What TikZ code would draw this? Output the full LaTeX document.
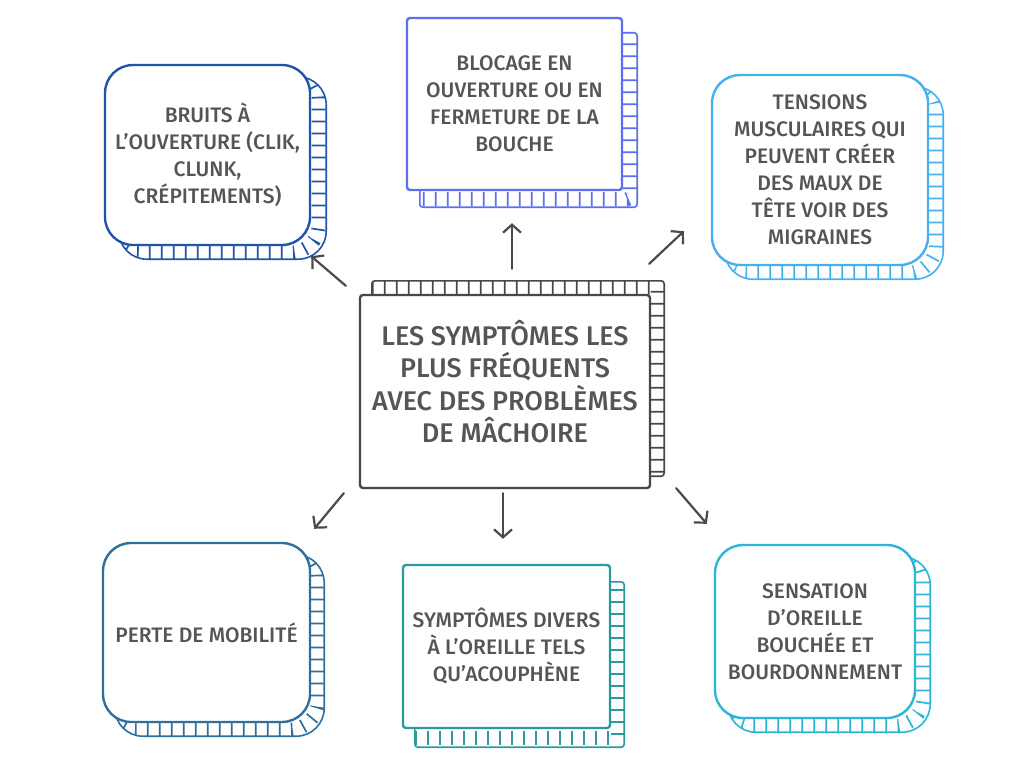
\documentclass[tikz,border=0pt]{standalone}
\usepackage{fontspec}
\setmainfont{Fira Sans}[BoldFont={Fira Sans Medium}]
\usetikzlibrary{arrows.meta,backgrounds}
\definecolor{txtgray}{HTML}{555555}
\definecolor{arrgray}{HTML}{4A4A4A}
\definecolor{bruitsblue}{HTML}{1F55A8}
\definecolor{blocageblue}{HTML}{5A6EF2}
\definecolor{tensionsblue}{HTML}{45B0F0}
\definecolor{centregray}{HTML}{474747}
\definecolor{perteblue}{HTML}{2E6F9E}
\definecolor{diversteal}{HTML}{2B9A9C}
\definecolor{sensationcyan}{HTML}{2BB6D9}
% hatched side band behind a box: node, colour, dx, dy
\newcommand\extrude[4]{%
  \begin{scope}
    \clip ([shift={(#3,#4)}]#1.north west) rectangle ([shift={(#3,#4)}]#1.south east);
    \draw[#2, line width=14pt, dash pattern=on 1.7pt off 10.3pt] ([shift={(#3/2,#4/2)}]#1.north west) rectangle ([shift={(#3/2,#4/2)}]#1.south east);
  \end{scope}
  \draw[#2, line width=1.6pt] ([shift={(#3,#4)}]#1.north west) rectangle ([shift={(#3,#4)}]#1.south east);
}
\begin{document}
\begin{tikzpicture}[x=1pt, y=-1pt,
  symptom/.style={draw=#1, fill=white, line width=2.4pt, rounded corners=28pt, text=txtgray, align=center, font=\fontsize{21}{27}\selectfont\bfseries, inner sep=2pt},
  symptom/.default=black,
  flat/.style={rounded corners=3pt},
  arr/.style={draw=arrgray, line width=2.2pt, line cap=round, -{Straight Barb[length=8pt,width=18pt]}}]
\useasboundingbox (0,0) rectangle (1024,768);

\node[symptom=centregray, flat, minimum width=290pt, minimum height=193pt, font=\fontsize{27}{32.5}\selectfont\bfseries] (centre) at (505,391.5) {LES SYMPTÔMES LES\\PLUS FRÉQUENTS\\AVEC DES PROBLÈMES\\DE MÂCHOIRE\\[-12pt]\mbox{}};

\node[symptom=bruitsblue, minimum width=205pt, minimum height=180pt] (bruits) at (207.5,155) {BRUITS À\\L’OUVERTURE (CLIK,\\CLUNK,\\CRÉPITEMENTS)};
\node[symptom=blocageblue, flat, minimum width=215pt, minimum height=172pt] (blocage) at (514.5,104) {BLOCAGE EN\\OUVERTURE OU EN\\FERMETURE DE LA\\BOUCHE};
\node[symptom=tensionsblue, minimum width=216pt, minimum height=190pt] (tensions) at (820,170) {TENSIONS\\MUSCULAIRES QUI\\PEUVENT CRÉER\\DES MAUX DE\\TÊTE VOIR DES\\MIGRAINES};
\node[symptom=perteblue, minimum width=207pt, minimum height=179pt] (perte) at (206.5,632.5) {PERTE DE MOBILITÉ};
\node[symptom=diversteal, flat, minimum width=207pt, minimum height=163pt] (divers) at (506.5,646.5) {SYMPTÔMES DIVERS\\À L’OREILLE TELS\\QU’ACOUPHÈNE};
\node[symptom=sensationcyan, minimum width=200pt, minimum height=173pt] (sensation) at (815,631.5) {SENSATION\\D’OREILLE\\BOUCHÉE ET\\BOURDONNEMENT};

\begin{scope}[on background layer]
\fill[white] (0,0) rectangle (1024,768);
\begin{scope}[rounded corners=3pt]
\extrude{centre}{centregray}{13}{-13}
\extrude{blocage}{blocageblue}{14}{16}
\extrude{divers}{diversteal}{13}{18}
\end{scope}
\begin{scope}[rounded corners=28pt]
\extrude{bruits}{bruitsblue}{15}{13}
\extrude{tensions}{tensionsblue}{14}{13}
\extrude{perte}{perteblue}{13}{13}
\extrude{sensation}{sensationcyan}{14}{13}
\end{scope}
\end{scope}

\draw[arr] ([shift={(-13,-8)}]centre.north west) -- ([shift={(0,10)}]bruits.south east);
\draw[arr] ([shift={(7,-25)}]centre.north) -- ([shift={(-2.5,32)}]blocage.south);
\draw[arr] ([shift={(-2,-30)}]centre.north east) -- ([shift={(-27,-35)}]tensions.south west);
\draw[arr] ([shift={(-15,4)}]centre.south west) -- ([shift={(3,-13)}]perte.north east);
\draw[arr] ([shift={(-2,4)}]centre.south) -- ([shift={(-3.5,-25)}]divers.north);
\draw[arr] ([shift={(25,-1)}]centre.south east) -- ([shift={(-7,-20)}]sensation.north west);
\end{tikzpicture}
\end{document}
